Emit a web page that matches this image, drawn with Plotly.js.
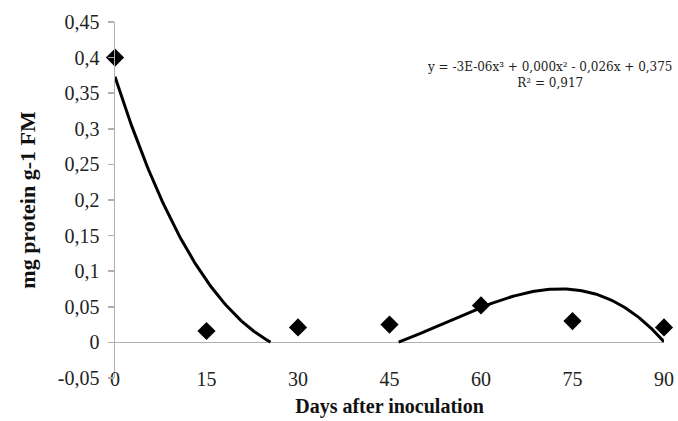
<!DOCTYPE html>
<html>
<head>
<meta charset="utf-8">
<script src="https://cdn.plot.ly/plotly-3.0.1.min.js"></script>
<style>html,body{margin:0;padding:0;background:#fff;}#chart{width:678px;height:421px;}</style>
</head>
<body>
<div id="chart"></div>
<script>
// Data
var days = [0, 15, 30, 45, 60, 75, 90];
var protein = [0.400, 0.016, 0.021, 0.025, 0.052, 0.030, 0.021];
var xTickVals = [0, 15, 30, 45, 60, 75, 90];
var xTickText = ['0', '15', '30', '45', '60', '75', '90'];
var yTickVals = [-0.05, 0, 0.05, 0.1, 0.15, 0.2, 0.25, 0.3, 0.35, 0.4, 0.45];
var yTickText = ['-0,05', '0', '0,05', '0,1', '0,15', '0,2', '0,25', '0,3', '0,35', '0,4', '0,45'];
var equationText = 'y = -3E-06x³ + 0,000x² - 0,026x + 0,375<br>R² = 0,917';

// Cubic least-squares trendline computed from the data (as the spreadsheet did)
function polyfit(xs, ys, deg) {
  var n = deg + 1, A = [], b = [];
  for (var i = 0; i < n; i++) { A.push(new Array(n).fill(0)); b.push(0); }
  for (var k = 0; k < xs.length; k++) {
    for (var i = 0; i < n; i++) {
      b[i] += ys[k] * Math.pow(xs[k], i);
      for (var j = 0; j < n; j++) A[i][j] += Math.pow(xs[k], i + j);
    }
  }
  for (var c = 0; c < n; c++) {
    var p = c;
    for (var r = c + 1; r < n; r++) if (Math.abs(A[r][c]) > Math.abs(A[p][c])) p = r;
    var t = A[c]; A[c] = A[p]; A[p] = t; var tb = b[c]; b[c] = b[p]; b[p] = tb;
    for (var r = c + 1; r < n; r++) {
      var f = A[r][c] / A[c][c];
      for (var j = c; j < n; j++) A[r][j] -= f * A[c][j];
      b[r] -= f * b[c];
    }
  }
  var coef = new Array(n).fill(0);
  for (var i = n - 1; i >= 0; i--) {
    var s = b[i];
    for (var j = i + 1; j < n; j++) s -= A[i][j] * coef[j];
    coef[i] = s / A[i][i];
  }
  return coef;
}
var coef = polyfit(days, protein, 3);
var fitX = [], fitY = [];
for (var x = 0; x <= 90; x += 0.25) {
  var v = coef[0] + coef[1] * x + coef[2] * x * x + coef[3] * x * x * x;
  fitX.push(x);
  // the reference hides the part of the trendline that falls below zero
  fitY.push(v >= 0 ? v : null);
}

var serif = '"Liberation Serif", "Times New Roman", serif';
var traces = [
  {x: fitX, y: fitY, type: 'scatter', mode: 'lines', line: {color: '#000', width: 3}, connectgaps: false, hoverinfo: 'skip', showlegend: false},
  {x: days, y: protein, type: 'scatter', mode: 'markers', marker: {symbol: 'diamond', size: 14, color: '#000'}, cliponaxis: false, showlegend: false}
];
var layout = {
  width: 678, height: 421,
  margin: {l: 115, r: 14, t: 22, b: 43},
  paper_bgcolor: '#fff', plot_bgcolor: '#fff',
  showlegend: false,
  font: {family: serif, color: '#222'},
  xaxis: {
    range: [0, 90], tickvals: xTickVals, ticktext: xTickText,
    showgrid: false, zeroline: false, showline: false, ticks: '',
    ticklabelstandoff: -13,
    tickfont: {family: serif, size: 20, color: '#222'},
    title: {text: '<b>Days after inoculation</b>', font: {family: serif, size: 20, color: '#111'}, standoff: 9}
  },
  yaxis: {
    range: [-0.05, 0.45], tickvals: yTickVals, ticktext: yTickText,
    showgrid: false, zeroline: true, zerolinecolor: '#b0b0b0', zerolinewidth: 1.5,
    showline: true, linecolor: '#b0b0b0', linewidth: 1.5,
    ticks: 'outside', ticklen: 6, tickcolor: '#b0b0b0', tickwidth: 1.5,
    ticklabelstandoff: 4,
    tickfont: {family: serif, size: 20, color: '#222'},
    title: {text: '<b>mg protein g-1 FM</b>', font: {family: serif, size: 22, color: '#111'}, standoff: 16}
  },
  annotations: [{
    xref: 'paper', yref: 'paper', x: 1.019, y: 0.852, xanchor: 'right', yanchor: 'middle',
    text: equationText, showarrow: false, align: 'center', borderpad: 0,
    font: {family: '"DejaVu Serif", serif', size: 12, color: '#222'}
  }]
};
Plotly.newPlot('chart', traces, layout, {displayModeBar: false, staticPlot: true});
</script>
</body>
</html>
